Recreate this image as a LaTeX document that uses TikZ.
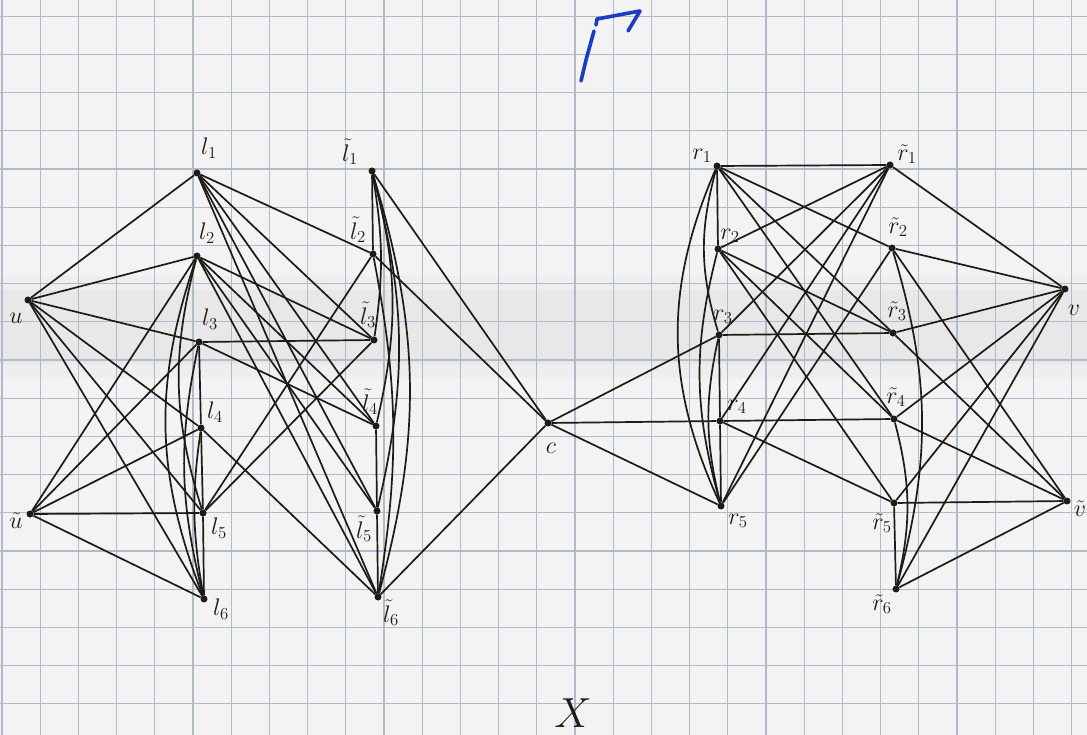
\RequirePackage{fix-cm}
\documentclass[tikz,border=0pt]{standalone}
\definecolor{ink}{RGB}{30,26,24}
\definecolor{gridc}{RGB}{176,186,200}
\definecolor{paper}{RGB}{242,243,242}
\definecolor{pen}{RGB}{25,60,195}
\tikzset{
  vert/.style={circle, fill=ink, inner sep=0pt, minimum size=7pt},
  lab/.style={font=\fontsize{24}{26}\selectfont, inner sep=0pt, text=ink},
  ln/.style={draw=ink, line width=1.7pt},
  gridline/.style={draw=gridc, line width=1.1pt},
  penline/.style={draw=pen, line width=3.6pt, line cap=round, line join=round}
}
\begin{document}
\begin{tikzpicture}[x=1pt,y=-1pt]
\useasboundingbox (0,0) rectangle (1087,735);
\fill[paper] (0,0) rectangle (1087,735);
\fill[black,opacity=0.02] (0,276) rectangle (1087,378);
\fill[black,opacity=0.025] (0,290) rectangle (1087,364);
\foreach \k in {0,...,28} \draw[gridline] ({2+38.2*\k},0) -- ({2+38.2*\k},735);
\foreach \k in {0,...,19} \draw[gridline] (0,{16.2+38.2*\k}) -- (1087,{16.2+38.2*\k});

% pen mark
\draw[penline] (581,81) -- (586,60) -- (594,31);
\draw[penline] (596,25) -- (597,19) -- (640,11) -- (628,31);

% left group
\node[vert] (u) at (28,300) {};
\node[vert] (ut) at (30,514) {};
\node[vert] (l1) at (197,173) {};
\node[vert] (l2) at (197,256) {};
\node[vert] (l3) at (199,342) {};
\node[vert] (l4) at (201,428) {};
\node[vert] (l5) at (203,513) {};
\node[vert] (l6) at (204,599) {};
\node[vert] (lt1) at (372,171) {};
\node[vert] (lt2) at (373,254) {};
\node[vert] (lt3) at (374,340) {};
\node[vert] (lt4) at (376,426) {};
\node[vert] (lt5) at (377,511) {};
\node[vert] (lt6) at (378,597) {};
\node[vert] (c) at (548,423) {};
% right group
\node[vert] (r1) at (717,166) {};
\node[vert] (r2) at (718,249) {};
\node[vert] (r3) at (719,335) {};
\node[vert] (r4) at (720,421) {};
\node[vert] (r5) at (721,506) {};
\node[vert] (rt1) at (890,165) {};
\node[vert] (rt2) at (892,248) {};
\node[vert] (rt3) at (893,333) {};
\node[vert] (rt4) at (894,419) {};
\node[vert] (rt5) at (894,503) {};
\node[vert] (rt6) at (896,589) {};
\node[vert] (v) at (1065,289) {};
\node[vert] (vt) at (1067,501) {};

% labels
\node[lab] (Lu) at (16,318) {$u$};
\node[lab] (Lut) at (16,521) {$\tilde{u}$};
\node[lab] (Ll1) at (209,148) {$l_1$};
\node[lab] (Ll2) at (207,233) {$l_2$};
\node[lab] (Ll3) at (210,319) {$l_3$};
\node[lab] (Ll4) at (215,412) {$l_4$};
\node[lab] (Ll5) at (219,528) {$l_5$};
\node[lab] (Ll6) at (221,609) {$l_6$};
\node[lab] (Llt1) at (350,152) {$\tilde{l}_1$};
\node[lab] (Llt2) at (358,230) {$\tilde{l}_2$};
\node[lab] (Llt3) at (368,315) {$\tilde{l}_3$};
\node[lab] (Llt4) at (370,402) {$\tilde{l}_4$};
\node[lab] (Llt5) at (364,529) {$\tilde{l}_5$};
\node[lab] (Llt6) at (391,613) {$\tilde{l}_6$};
\node[lab] (Lc) at (551,448) {$c$};
\node[lab] (Lr1) at (702,156) {$r_1$};
\node[lab] (Lr2) at (730,236) {$r_2$};
\node[lab] (Lr3) at (723,317) {$r_3$};
\node[lab] (Lr4) at (737,407) {$r_4$};
\node[lab] (Lr5) at (738,521) {$r_5$};
\node[lab] (Lrt1) at (907,154) {$\tilde{r}_1$};
\node[lab] (Lrt2) at (898,227) {$\tilde{r}_2$};
\node[lab] (Lrt3) at (897,311) {$\tilde{r}_3$};
\node[lab] (Lrt4) at (896,397) {$\tilde{r}_4$};
\node[lab] (Lrt5) at (882,523) {$\tilde{r}_5$};
\node[lab] (Lrt6) at (882,604) {$\tilde{r}_6$};
\node[lab] (Lv) at (1074,310) {$v$};
\node[lab] (Lvt) at (1080,509) {$\tilde{v}$};

\node[font=\fontsize{42}{46}\selectfont, text=ink, inner sep=0pt] (X) at (573,713) {$X$};

% u and u~
\foreach \t in {l1,l2,l3,l4,l5,l6} \draw[ln] (u) -- (\t);
\foreach \t in {l2,l3,l4,l5,l6} \draw[ln] (ut) -- (\t);
% l column
\draw[ln] (l3) -- (l4);
\draw[ln] (l4) -- (l5);
\draw[ln] (l5) -- (l6);
\draw[ln] (l2) to[bend right=20] (l6);
\draw[ln] (l2) to[bend right=16] (l5);
\draw[ln] (l3) to[bend right=13] (l6);
\draw[ln] (l4) to[bend right=9] (l6);
% l to l~
\foreach \t in {lt2,lt3,lt4,lt5,lt6} \draw[ln] (l1) -- (\t);
\foreach \t in {lt3,lt4,lt5,lt6} \draw[ln] (l2) -- (\t);
\draw[ln] (l3) -- (lt3);
\draw[ln] (l3) -- (lt4);
\draw[ln] (l4) -- (lt6);
\draw[ln] (l5) -- (lt2);
\draw[ln] (l5) -- (lt3);
% l~ column
\draw[ln] (lt1) -- (lt2);
\draw[ln] (lt4) -- (lt5);
\draw[ln] (lt5) -- (lt6);
\draw[ln] (lt1) to[bend left=9] (lt3);
\draw[ln] (lt1) to[bend left=14] (lt4);
\draw[ln] (lt1) to[bend left=14] (lt5);
\draw[ln] (lt1) to[bend left=16] (lt6);
\draw[ln] (lt2) to[bend left=10] (lt6);
% c
\foreach \t in {lt1,lt2,lt6,r3,r4,r5} \draw[ln] (c) -- (\t);
% r column
\draw[ln] (r1) -- (r2);
\draw[ln] (r3) -- (r4);
\draw[ln] (r4) -- (r5);
\draw[ln] (r1) to[bend right=24] (r5);
\draw[ln] (r1) to[bend right=16] (r3);
\draw[ln] (r2) to[bend right=15] (r5);
\draw[ln] (r3) to[bend right=13] (r5);
% r to r~
\foreach \t in {rt1,rt2,rt3,rt4} \draw[ln] (r1) -- (\t);
\foreach \t in {rt1,rt3,rt4,rt5} \draw[ln] (r2) -- (\t);
\draw[ln] (r3) -- (rt1);
\draw[ln] (r3) -- (rt3);
\draw[ln] (r4) -- (rt1);
\draw[ln] (r4) -- (rt4);
\draw[ln] (r4) -- (rt5);
\draw[ln] (r5) -- (rt1);
\draw[ln] (r5) -- (rt2);
% r~ column
\draw[ln] (rt5) -- (rt6);
\draw[ln] (rt2) to[bend left=16] (rt6);
\draw[ln] (rt4) to[bend left=14] (rt6);
% v and v~
\foreach \t in {rt1,rt2,rt3,rt4,rt5,rt6} \draw[ln] (v) -- (\t);
\foreach \t in {rt2,rt3,rt4,rt5,rt6} \draw[ln] (vt) -- (\t);
\end{tikzpicture}
\end{document}
